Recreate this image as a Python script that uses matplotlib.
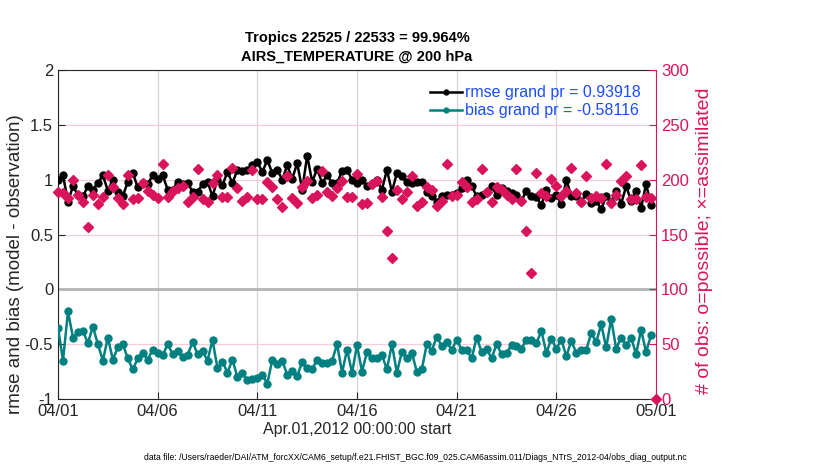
import pandas as pd
import matplotlib
matplotlib.use("Agg")
import matplotlib.pyplot as plt
import matplotlib.dates as mdates

plt.rcParams['font.family'] = ['Liberation Sans', 'DejaVu Sans']

# 6-hourly analysis times, April 2012 (last slot has no rmse/bias)
times = pd.date_range("2012-04-01", periods=121, freq="6h")

rmse = [
    1.00, 1.04, 0.80, 0.94, 0.86, 0.85, 0.94, 0.91, 0.97, 1.04,
    0.90, 1.00, 0.89, 0.85, 0.98, 1.06, 0.93, 0.97, 0.96, 1.04,
    1.01, 1.04, 0.91, 0.91, 0.98, 0.96, 0.97, 0.89, 0.89, 0.96,
    0.98, 0.85, 1.00, 0.95, 1.07, 0.97, 1.09, 1.08, 1.09, 1.13,
    1.16, 1.07, 1.18, 1.06, 1.09, 1.00, 1.13, 1.01, 1.15, 0.91,
    1.22, 0.98, 1.10, 0.97, 1.04, 0.97, 0.97, 1.08, 1.09, 1.00,
    0.97, 1.00, 0.94, 0.96, 1.00, 0.91, 1.09, 0.89, 1.06, 1.03,
    0.98, 0.97, 0.98, 0.98, 0.89, 0.85, 0.80, 0.85, 0.86, 0.86,
    0.88, 0.92, 1.00, 0.94, 0.85, 0.86, 0.89, 0.94, 0.86, 0.92,
    0.90, 0.88, 0.86, 0.81, 0.90, 0.85, 0.84, 0.77, 0.91, 0.83,
    0.86, 0.78, 1.00, 0.85, 0.85, 0.80, 0.87, 0.79, 0.81, 0.73,
    0.85, 0.80, 0.90, 0.78, 0.94, 0.81, 0.90, 0.74, 0.96, 0.77]

bias = [
    -0.35, -0.65, -0.20, -0.44, -0.39, -0.38, -0.49, -0.34, -0.50, -0.65,
    -0.44, -0.64, -0.53, -0.50, -0.63, -0.73, -0.63, -0.58, -0.64, -0.55,
    -0.58, -0.60, -0.50, -0.59, -0.56, -0.62, -0.60, -0.48, -0.59, -0.56,
    -0.65, -0.46, -0.72, -0.66, -0.76, -0.64, -0.80, -0.76, -0.83, -0.82,
    -0.81, -0.78, -0.86, -0.64, -0.68, -0.65, -0.78, -0.74, -0.79, -0.66,
    -0.72, -0.73, -0.64, -0.67, -0.67, -0.65, -0.50, -0.76, -0.55, -0.76,
    -0.51, -0.75, -0.57, -0.63, -0.63, -0.60, -0.73, -0.50, -0.76, -0.57,
    -0.63, -0.58, -0.75, -0.73, -0.50, -0.56, -0.43, -0.52, -0.48, -0.55,
    -0.46, -0.55, -0.55, -0.63, -0.44, -0.57, -0.54, -0.63, -0.50, -0.59,
    -0.58, -0.51, -0.52, -0.54, -0.46, -0.46, -0.49, -0.38, -0.58, -0.45,
    -0.54, -0.46, -0.61, -0.47, -0.58, -0.55, -0.55, -0.40, -0.48, -0.32,
    -0.53, -0.27, -0.54, -0.44, -0.51, -0.44, -0.59, -0.37, -0.57, -0.42]

nobs = [
    189, 188, 183, 200, 186, 180, 157, 186, 178, 184,
    204, 193, 183, 178, 204, 182, 183, 197, 190, 186,
    183, 214, 184, 190, 192, 194, 180, 184, 210, 182,
    180, 197, 204, 184, 184, 211, 192, 181, 184, 209,
    182, 182, 198, 193, 182, 175, 203, 183, 179, 193,
    199, 183, 186, 208, 189, 185, 192, 199, 184, 184,
    205, 178, 179, 196, 199, 184, 153, 129, 191, 182,
    189, 203, 176, 180, 193, 191, 176, 181, 214, 185,
    186, 198, 193, 180, 182, 210, 189, 180, 193, 191,
    186, 182, 210, 181, 153, 115, 206, 188, 185, 201,
    194, 185, 190, 211, 188, 180, 203, 183, 185, 183,
    214, 179, 186, 199, 203, 182, 182, 213, 184, 183,
    0]

rmse_label = "rmse grand pr = 0.93918"
bias_label = "bias grand pr = -0.58116"
title = "Tropics 22525 / 22533 = 99.964%\nAIRS_TEMPERATURE @ 200 hPa"
xlabel = "Apr.01,2012 00:00:00 start"
left_label = "rmse and bias (model - observation)"
right_label = "# of obs: o=possible; \u00d7=assimilated"
datafile = ("data file: /Users/raeder/DAI/ATM_forcXX/CAM6_setup/"
            "f.e21.FHIST_BGC.f09_025.CAM6assim.011/Diags_NTrS_2012-04/obs_diag_output.nc")

xtick_dates = pd.to_datetime(["2012-04-01", "2012-04-06", "2012-04-11", "2012-04-16",
                              "2012-04-21", "2012-04-26", "2012-05-01"])
yticks = [-1, -0.5, 0, 0.5, 1, 1.5, 2]
ytick_labels = ["-1", "-0.5", "0", "0.5", "1", "1.5", "2"]
obs_ticks = [0, 50, 100, 150, 200, 250, 300]

red = '#d9145c'
teal = '#008080'
dark = '#262626'
blue = '#1a4dff'

fig = plt.figure(figsize=(8.3, 4.7), dpi=100)
ax = fig.add_axes([0.0699, 0.151, 0.7205, 0.700])

ax.axhline(0, color='#b4b4b4', lw=2, zorder=1)
ax.plot(times[:120], rmse, '-o', color='k', lw=1.8, ms=5, label=rmse_label, zorder=3)
ax.plot(times[:120], bias, '-o', color=teal, lw=1.8, ms=5, label=bias_label, zorder=3)

ax.set_xlim(times[0], times[-1])
ax.set_ylim(-1, 2)
ax.set_xticks(xtick_dates)
ax.xaxis.set_major_formatter(mdates.DateFormatter('%m/%d'))
ax.set_yticks(yticks)
ax.set_yticklabels(ytick_labels)
ax.tick_params(direction='in', labelsize=12, colors=dark, length=5)
ax.xaxis.grid(True, color='#d4d4d4', lw=0.9)
ax.yaxis.grid(True, color='#f7cbd9', lw=0.9)
ax.set_axisbelow(True)
for s in ['left', 'bottom', 'top']:
    ax.spines[s].set_color(dark)
ax.spines['right'].set_visible(False)

ax.set_xlabel(xlabel, fontsize=11.5, color=dark, labelpad=2)
ax.set_ylabel(left_label, fontsize=13.5, color=dark)
ax.yaxis.set_label_coords(-0.057, 0.41)
ax.set_title(title, fontsize=10.5, fontweight='bold', pad=7, linespacing=1.35)

leg = ax.legend(loc='upper right', frameon=False, fontsize=11.5, handlelength=2.0,
                handletextpad=0.2, labelspacing=0.2, borderaxespad=0.55, markerscale=0.7)
for t in leg.get_texts():
    t.set_color(blue)

ax2 = ax.twinx()
ax2.plot(times, nobs, 'D', color=red, ms=5.3, linestyle='none', clip_on=False, zorder=4)
ax2.set_ylim(0, 300)
ax2.set_yticks(obs_ticks)
ax2.tick_params(axis='y', direction='in', labelsize=12, colors=red, length=5)
ax2.spines['right'].set_color(red)
for s in ['left', 'bottom', 'top']:
    ax2.spines[s].set_visible(False)
ax2.set_ylabel(right_label, fontsize=14, color=red)
ax2.yaxis.set_label_coords(1.066, 0.48)

fig.text(0.5, 0.022, datafile, fontsize=6.2, ha='center', color='k')

fig.savefig("out.png", dpi=100)
